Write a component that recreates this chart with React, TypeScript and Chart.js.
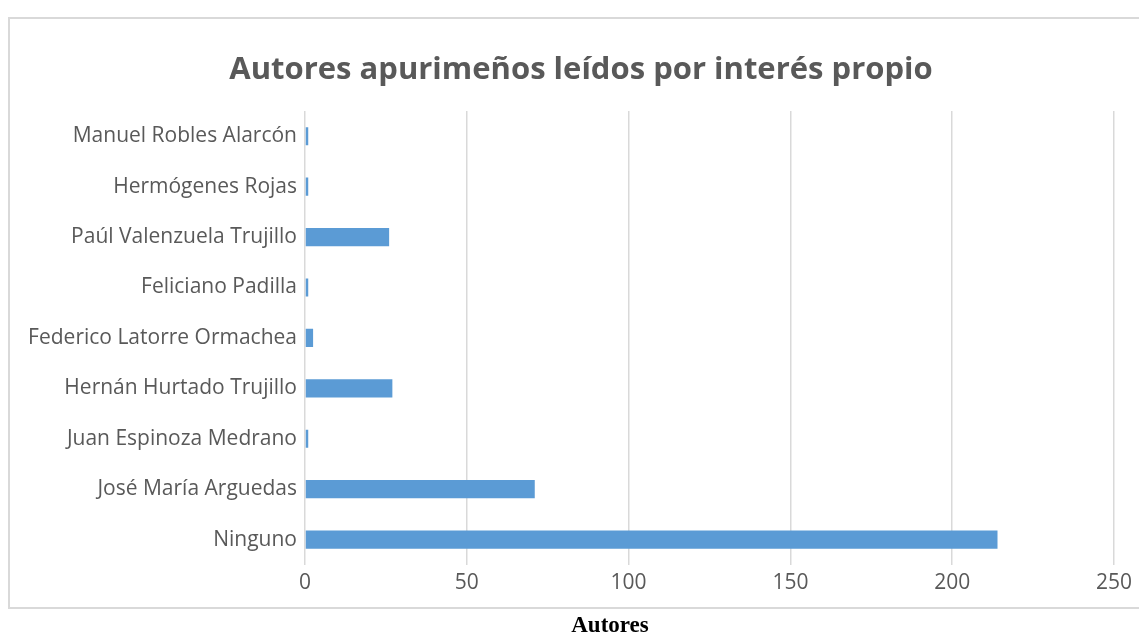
import React, { useEffect, useRef } from "react";
import { Chart, registerables } from "chart.js";

Chart.register(...registerables);

const chartTitle = "Autores apurimeños leídos por interés propio";
const axisTitle = "Autores";
const categories = [
  "Manuel Robles Alarcón",
  "Hermógenes Rojas",
  "Paúl Valenzuela Trujillo",
  "Feliciano Padilla",
  "Federico Latorre Ormachea",
  "Hernán Hurtado Trujillo",
  "Juan Espinoza Medrano",
  "José María Arguedas",
  "Ninguno",
];
const values = [1, 1, 26, 1, 2.5, 27, 1, 71, 214];
const xMin = 0;
const xMax = 250;
const xStep = 50;

const titlePlugin = {
  id: "centeredTitle",
  afterDraw(chart: any) {
    const ctx = chart.ctx;
    ctx.save();
    ctx.font = "bold 31px 'Open Sans'";
    ctx.fillStyle = "#595959";
    ctx.textAlign = "center";
    ctx.textBaseline = "middle";
    ctx.fillText(chartTitle, 581, 70);
    ctx.restore();
  },
};

export default function App() {
  const canvasRef = useRef<HTMLCanvasElement | null>(null);

  useEffect(() => {
    if (!canvasRef.current) return;
    const chart = new Chart(canvasRef.current, {
      type: "bar",
      data: {
        labels: categories,
        datasets: [
          {
            data: values,
            backgroundColor: "#5b9bd5",
            borderWidth: 0,
            barPercentage: 0.72,
            categoryPercentage: 0.5,
          },
        ],
      },
      plugins: [titlePlugin],
      options: {
        indexAxis: "y",
        animation: false,
        responsive: false,
        maintainAspectRatio: false,
        layout: { padding: { left: 10, right: 25, top: 111, bottom: 33 } },
        plugins: {
          legend: { display: false },
          tooltip: { enabled: false },
          title: { display: false },
        },
        scales: {
          x: {
            min: xMin,
            max: xMax,
            ticks: {
              stepSize: xStep,
              color: "#595959",
              font: { family: "'Open Sans'", size: 21 },
              padding: 6,
            },
            grid: { color: "#d9d9d9", lineWidth: 1.5, drawTicks: false },
            border: { display: false },
          },
          y: {
            ticks: {
              color: "#595959",
              font: { family: "'Open Sans'", size: 21 },
              padding: 8,
              autoSkip: false,
            },
            grid: { display: false, drawTicks: false },
            border: { display: false },
            afterFit: (scale: any) => {
              scale.width = 295;
            },
          },
        },
      },
    });
    return () => chart.destroy();
  }, []);

  return (
    <div
      style={{
        position: "fixed",
        left: 0,
        top: 0,
        width: 1139,
        height: 635,
        overflow: "hidden",
        background: "#ffffff",
      }}
    >
      <canvas
        ref={canvasRef}
        width={1139}
        height={635}
        style={{ position: "absolute", left: 0, top: 0, width: 1139, height: 635 }}
      />
      <div
        style={{
          position: "absolute",
          left: 8,
          top: 17,
          width: 1160,
          height: 588,
          border: "2px solid #d9d9d9",
          pointerEvents: "none",
        }}
      />
      <div
        style={{
          position: "absolute",
          left: 510,
          top: 611,
          width: 200,
          textAlign: "center",
          fontFamily: "'Liberation Serif', 'Times New Roman', serif",
          fontWeight: "bold",
          fontSize: 23,
          lineHeight: "28px",
          color: "#000000",
        }}
      >
        {axisTitle}
      </div>
    </div>
  );
}
